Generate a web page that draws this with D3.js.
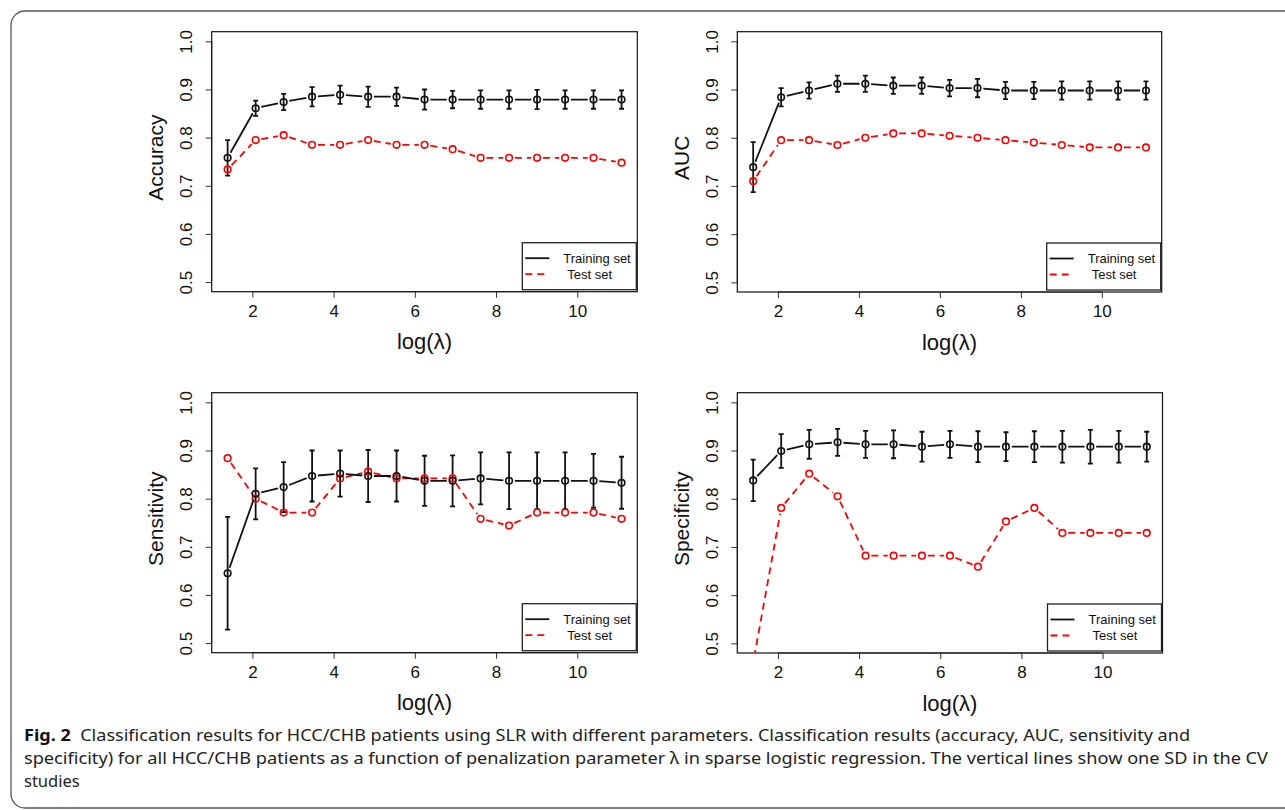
<!DOCTYPE html>
<html>
<head>
<meta charset="utf-8">
<script src="https://cdn.jsdelivr.net/npm/d3@7/dist/d3.min.js"></script>
<style>
  html, body { margin: 0; padding: 0; background: #fff; }
  svg { display: block; }
</style>
</head>
<body>
<svg id="fig" width="1285" height="810"></svg>
<script>
// ---------- data ----------
const logLambda = [1.39, 2.08, 2.77, 3.47, 4.16, 4.85, 5.55, 6.24, 6.93, 7.62, 8.32, 9.01, 9.70, 10.40, 11.09];

const accTrain   = [0.758, 0.861, 0.874, 0.885, 0.889, 0.885, 0.885, 0.879, 0.879, 0.879, 0.879, 0.879, 0.879, 0.879, 0.879];
const accTrainSD = [0.037, 0.016, 0.017, 0.020, 0.019, 0.021, 0.019, 0.021, 0.018, 0.019, 0.019, 0.020, 0.019, 0.019, 0.019];
const accTest    = [0.734, 0.795, 0.805, 0.785, 0.785, 0.795, 0.785, 0.785, 0.776, 0.758, 0.758, 0.758, 0.758, 0.758, 0.748];

const aucTrain   = [0.739, 0.884, 0.898, 0.912, 0.912, 0.908, 0.908, 0.903, 0.903, 0.898, 0.898, 0.898, 0.898, 0.898, 0.898];
const aucTrainSD = [0.052, 0.019, 0.017, 0.017, 0.017, 0.017, 0.017, 0.017, 0.019, 0.018, 0.018, 0.019, 0.019, 0.019, 0.019];
const aucTest    = [0.710, 0.795, 0.795, 0.785, 0.800, 0.809, 0.809, 0.804, 0.800, 0.795, 0.790, 0.785, 0.780, 0.780, 0.780];

const senTrain   = [0.645, 0.810, 0.824, 0.847, 0.852, 0.847, 0.847, 0.837, 0.837, 0.842, 0.837, 0.837, 0.837, 0.837, 0.833];
const senTrainSD = [0.117, 0.053, 0.052, 0.053, 0.048, 0.054, 0.053, 0.052, 0.053, 0.054, 0.059, 0.059, 0.059, 0.056, 0.054];
const senTest    = [0.884, 0.800, 0.771, 0.771, 0.842, 0.856, 0.842, 0.842, 0.842, 0.758, 0.744, 0.771, 0.771, 0.771, 0.758];

const speTrain   = [0.838, 0.899, 0.913, 0.917, 0.913, 0.913, 0.908, 0.913, 0.908, 0.908, 0.908, 0.908, 0.908, 0.908, 0.908];
const speTrainSD = [0.043, 0.035, 0.030, 0.028, 0.028, 0.029, 0.031, 0.028, 0.032, 0.030, 0.032, 0.033, 0.035, 0.033, 0.031];
const speTest    = [0.460, 0.781, 0.852, 0.805, 0.682, 0.682, 0.682, 0.682, 0.659, 0.753, 0.781, 0.729, 0.729, 0.729, 0.729];

const panelTitles = ["Accuracy", "AUC", "Sensitivity", "Specificity"];
const xTicks = [2, 4, 6, 8, 10];
const yTicks = [0.5, 0.6, 0.7, 0.8, 0.9, 1.0];
const yTickLabels = ["0.5", "0.6", "0.7", "0.8", "0.9", "1.0"];
const xTitle = "log(\u03bb)";
const legendLabels = ["Training set", "Test set"];
const captionBold = "Fig. 2";
const captionLines = [
  "Classification results for HCC/CHB patients using SLR with different parameters. Classification results (accuracy, AUC, sensitivity and",
  "specificity) for all HCC/CHB patients as a function of penalization parameter \u03bb in sparse logistic regression. The vertical lines show one SD in the CV",
  "studies"
];

// ---------- layout ----------
const panels = [
  { title: panelTitles[0], train: accTrain, sd: accTrainSD, test: accTest, box: [211.7, 31.7, 637.3, 291.7] },
  { title: panelTitles[1], train: aucTrain, sd: aucTrainSD, test: aucTest, box: [737.3, 31.7, 1161.7, 292.0] },
  { title: panelTitles[2], train: senTrain, sd: senTrainSD, test: senTest, box: [211.7, 392.7, 637.3, 652.7] },
  { title: panelTitles[3], train: speTrain, sd: speTrainSD, test: speTest, box: [737.3, 392.7, 1162.5, 653.0] }
];

const svg = d3.select("#fig");
const chartFont = "'Liberation Sans', Arial, sans-serif";

// outer frame
svg.append("rect")
  .attr("x", 11).attr("y", 11)
  .attr("width", 1300).attr("height", 797)
  .attr("rx", 14).attr("ry", 14)
  .attr("fill", "none").attr("stroke", "#555").attr("stroke-width", 1.3);

const defs = svg.append("defs");

panels.forEach((p, i) => {
  const [x0, y0, x1, y1] = p.box;
  // R-style 4% extension of data range
  const xs = d3.scaleLinear().domain([0.998, 11.478]).range([x0, x1]);
  const ys = d3.scaleLinear().domain([0.48, 1.02]).range([y1, y0]);

  const g = svg.append("g");

  defs.append("clipPath").attr("id", "clip" + i)
    .append("rect").attr("x", x0).attr("y", y0).attr("width", x1 - x0).attr("height", y1 - y0);

  // x axis
  const xAxis = d3.axisBottom(xs).tickValues(xTicks).tickSize(6).tickSizeOuter(0).tickFormat(d3.format("d"));
  const gx = g.append("g").attr("transform", `translate(0,${y1})`).call(xAxis);
  gx.select(".domain").attr("stroke", "#333").attr("stroke-width", 1)
    .attr("d", `M${xs(xTicks[0])},0H${xs(xTicks[xTicks.length - 1])}`);
  gx.selectAll(".tick line").attr("stroke", "#333").attr("stroke-width", 1);
  gx.selectAll(".tick text").attr("font-family", chartFont).attr("font-size", 17)
    .attr("fill", "#111").attr("y", 13).attr("dy", "0.71em");

  // y axis
  const yAxis = d3.axisLeft(ys).tickValues(yTicks).tickSize(6).tickSizeOuter(0)
    .tickFormat((d, k) => yTickLabels[k]);
  const gy = g.append("g").attr("transform", `translate(${x0},0)`).call(yAxis);
  gy.select(".domain").attr("stroke", "#333").attr("stroke-width", 1)
    .attr("d", `M0,${ys(yTicks[0])}V${ys(yTicks[yTicks.length - 1])}`);
  gy.selectAll(".tick line").attr("stroke", "#333").attr("stroke-width", 1);
  gy.selectAll(".tick text")
    .attr("font-family", chartFont).attr("font-size", 17).attr("fill", "#111")
    .attr("x", null).attr("dy", null)
    .attr("text-anchor", "middle")
    .attr("transform", "translate(-25,0) rotate(-90)")
    .attr("dominant-baseline", "central");

  // box
  g.append("rect").attr("x", x0).attr("y", y0).attr("width", x1 - x0).attr("height", y1 - y0)
    .attr("fill", "none").attr("stroke", "#111").attr("stroke-width", 1.2);

  // axis titles
  g.append("text").attr("x", (x0 + x1) / 2).attr("y", y1 + 50)
    .attr("text-anchor", "middle").attr("dominant-baseline", "central")
    .attr("font-family", chartFont).attr("font-size", 22).attr("fill", "#111").text(xTitle);
  g.append("text")
    .attr("transform", `translate(${x0 - 56},${(y0 + y1) / 2 - 4}) rotate(-90)`)
    .attr("text-anchor", "middle").attr("dominant-baseline", "central")
    .attr("font-family", chartFont).attr("font-size", 21).attr("fill", "#111").text(p.title);

  const plot = g.append("g").attr("clip-path", `url(#clip${i})`);
  const r = 3.3;
  const gap = r + 2.5;

  function drawSeries(vals, color, dash) {
    const pts = vals.map((v, k) => [xs(logLambda[k]), ys(v)]);
    const segs = [];
    for (let k = 0; k < pts.length - 1; k++) {
      const [ax, ay] = pts[k], [bx, by] = pts[k + 1];
      const len = Math.hypot(bx - ax, by - ay);
      if (len <= 2 * gap) continue;
      const ux = (bx - ax) / len, uy = (by - ay) / len;
      segs.push([[ax + ux * gap, ay + uy * gap], [bx - ux * gap, by - uy * gap]]);
    }
    plot.append("g").selectAll("line").data(segs).join("line")
      .attr("x1", d => d[0][0]).attr("y1", d => d[0][1])
      .attr("x2", d => d[1][0]).attr("y2", d => d[1][1])
      .attr("stroke", color).attr("stroke-width", 1.8)
      .attr("stroke-dasharray", dash || null);
    plot.append("g").selectAll("circle").data(pts).join("circle")
      .attr("cx", d => d[0]).attr("cy", d => d[1]).attr("r", r)
      .attr("fill", "none").attr("stroke", color).attr("stroke-width", 1.6);
  }

  // error bars (training)
  const eb = plot.append("g").attr("stroke", "#111").attr("stroke-width", 1.8).attr("fill", "none");
  p.train.forEach((v, k) => {
    const x = xs(logLambda[k]);
    const yt = ys(v + p.sd[k]), yb = ys(v - p.sd[k]);
    eb.append("path").attr("d", `M${x - 2.5},${yt}H${x + 2.5}M${x},${yt}V${yb}M${x - 2.5},${yb}H${x + 2.5}`);
  });

  drawSeries(p.test, "#ff0000", "7,5");
  drawSeries(p.train, "#111", null);

  // legend
  const lw = 114, lh = 47;
  const lx = x1 - 1 - lw, ly = y1 - 2 - lh;
  const lg = g.append("g");
  lg.append("rect").attr("x", lx).attr("y", ly).attr("width", lw).attr("height", lh)
    .attr("fill", "#fff").attr("stroke", "#222").attr("stroke-width", 1.3);
  lg.append("line").attr("x1", lx + 3).attr("x2", lx + 27).attr("y1", ly + 15.5).attr("y2", ly + 15.5)
    .attr("stroke", "#111").attr("stroke-width", 1.8);
  lg.append("line").attr("x1", lx + 3).attr("x2", lx + 27).attr("y1", ly + 31.5).attr("y2", ly + 31.5)
    .attr("stroke", "#ff0000").attr("stroke-width", 1.8).attr("stroke-dasharray", "7,5");
  lg.append("text").attr("x", lx + 41).attr("y", ly + 15.5).attr("dominant-baseline", "central")
    .attr("font-family", chartFont).attr("font-size", 13).attr("fill", "#111").text(legendLabels[0]);
  lg.append("text").attr("x", lx + 45).attr("y", ly + 31.5).attr("dominant-baseline", "central")
    .attr("font-family", chartFont).attr("font-size", 13).attr("fill", "#111").text(legendLabels[1]);
});

// caption
const capFont = "'Noto Sans', 'Open Sans', sans-serif";
const cap = svg.append("g").attr("font-family", capFont).attr("font-size", 16.5).attr("fill", "#222");
const c1 = cap.append("text").attr("x", 24).attr("y", 741)
  .attr("textLength", 1166).attr("lengthAdjust", "spacingAndGlyphs");
c1.append("tspan").attr("font-weight", "bold").attr("fill", "#111").text(captionBold);
c1.append("tspan").text("\u00a0\u00a0" + captionLines[0]);
cap.append("text").attr("x", 24).attr("y", 764)
  .attr("textLength", 1244).attr("lengthAdjust", "spacingAndGlyphs").text(captionLines[1]);
cap.append("text").attr("x", 24).attr("y", 787).text(captionLines[2]);
</script>
</body>
</html>
